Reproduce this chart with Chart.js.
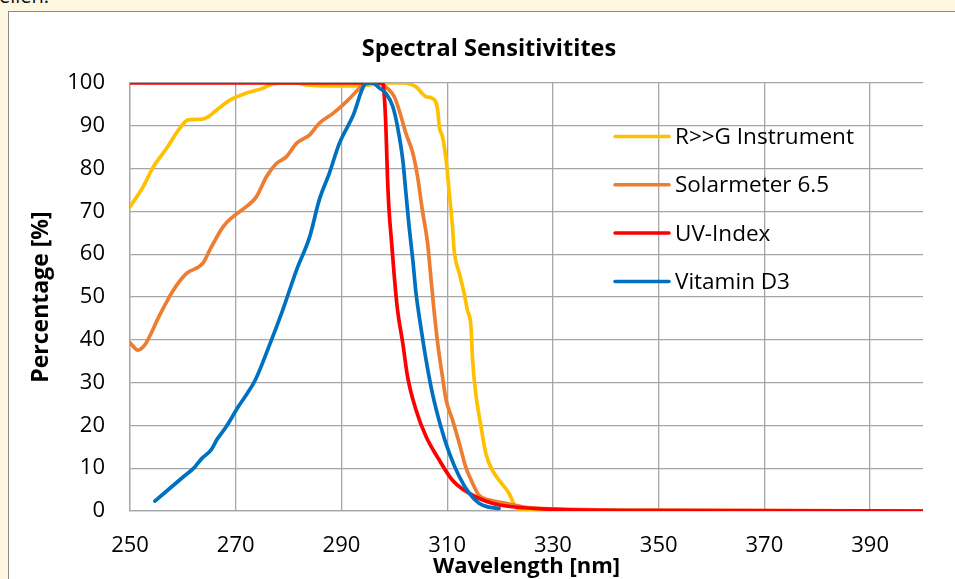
<!DOCTYPE html>
<html>
<head>
<meta charset="utf-8">
<script src="https://cdn.jsdelivr.net/npm/chart.js@4/dist/chart.umd.min.js"></script>
<style>
  html, body { margin: 0; padding: 0; width: 955px; height: 579px; overflow: hidden; background: #FFF6E2; }
  #pre { position: absolute; left: -1px; top: -14px; font: 20px "Open Sans", sans-serif; line-height: 20px; color: #111; white-space: nowrap; }
  #box { position: absolute; left: 8px; top: 11px; width: 946px; height: 567px; overflow: hidden; background: #fff; border-left: 1px solid #8a8a8a; border-top: 1px solid #8a8a8a; }
  #inner { position: relative; width: 960px; height: 600px; }
</style>
</head>
<body>
<div id="pre">elien.</div>
<div id="box"><div id="inner"><canvas id="c"></canvas></div></div>
<script>
// ---- data ----
const chartTitle = "Spectral Sensitivitites";
const xTitle = "Wavelength [nm]";
const yTitle = "Percentage [%]";
const xTickValues = [250, 270, 290, 310, 330, 350, 370, 390];
const seriesNames = ["R>>G Instrument", "Solarmeter 6.5", "UV-Index", "Vitamin D3"];
const seriesColors = ["#FFC000", "#ED7D31", "#FF0000", "#0070C0"];

const rgX = [250, 252.5, 254.4, 256.9, 259.4, 261, 263.2, 264.8, 266.4, 268.9, 271.9, 275.2, 277, 280.8, 284, 290.2, 294.6, 299.1, 301.6, 304.1, 306, 307.2, 308.2, 308.5, 309.1, 309.8, 310.4, 311, 311.3, 312.3, 313.2, 313.8, 314.5, 314.8, 315.4, 316.4, 317.3, 318.5, 319.8, 321.7, 322.9, 324.8, 330, 400];
const rgY = [71.1, 75.8, 80.4, 84.7, 89.4, 91.4, 91.5, 92.1, 93.7, 96, 97.6, 98.8, 99.8, 100, 99.5, 99.3, 99.5, 100, 100, 99.1, 96.8, 96.4, 93.7, 89.8, 87.5, 82, 74.2, 66.4, 61, 55.5, 50.9, 47, 43, 35.3, 27.5, 19.7, 13.5, 9.6, 7.2, 4.1, 1, 0, 0, 0];

const solX = [250, 251.5, 252.8, 253.8, 255.3, 256.3, 258.2, 260.7, 263.8, 265.1, 267.6, 269.5, 272, 273.9, 275.8, 277.7, 279.6, 281.5, 284, 285.8, 288.4, 290.9, 292.8, 294, 295.3, 297.2, 299, 300, 300.9, 302.2, 303.5, 304.4, 305.3, 306.3, 306.9, 307.5, 308.2, 309.1, 309.8, 311, 312.3, 313.5, 314.8, 316, 317.9, 321.1, 324.2, 330, 350, 400];
const solY = [39.3, 37.6, 38.8, 41, 45, 47.4, 51.6, 55.5, 57.9, 61, 66.4, 68.8, 71.1, 73.4, 78.1, 81.2, 82.8, 85.9, 87.9, 90.6, 92.9, 95.6, 98, 99.5, 100, 99.9, 98.4, 96.8, 93.7, 88.2, 83.6, 78.1, 70.3, 62.5, 54.7, 47, 39.2, 31.4, 25.9, 21.3, 15.8, 10.3, 6.5, 3.7, 2.6, 1.8, 1, 0.5, 0.2, 0];

const uvX = [250, 297.8, 298.1, 298.4, 298.7, 299, 299.5, 300, 300.6, 301.6, 302.5, 304.1, 306, 308.5, 311, 314.2, 318.5, 322.3, 330, 350, 400];
const uvY = [100, 100, 97, 89.8, 78.1, 70.3, 62.5, 54.7, 47, 39.2, 31.4, 23.6, 17.4, 11.9, 7.2, 4.1, 1.8, 1, 0.4, 0.1, 0];

const vitX = [254.7, 260.1, 262.2, 263.6, 265.3, 266.5, 268.2, 270.5, 272.2, 273.7, 276.4, 278.9, 281.5, 284, 285.8, 287.7, 289.6, 292.1, 294.7, 295.9, 297.2, 298.4, 299.7, 300.6, 301.6, 302.2, 302.8, 303.5, 304.1, 305, 306, 307.2, 308.8, 310.4, 312.3, 314.2, 316, 317.9, 319.8];
const vitY = [2.3, 8, 10.2, 12.3, 14.2, 16.8, 19.7, 24.4, 27.5, 30.6, 38.8, 47, 56.3, 64.1, 72.7, 78.9, 85.9, 92.1, 99.9, 100, 98.8, 97.6, 94.5, 89.8, 82, 74.2, 66.4, 58.6, 50.9, 43.1, 35.3, 27.5, 19.7, 13.5, 8, 4.1, 1.8, 0.9, 0.6];

// ---- build ----
const pairs = (xs, ys) => xs.map((x, i) => ({ x: x, y: ys[i] }));
const seriesData = [pairs(rgX, rgY), pairs(solX, solY), pairs(uvX, uvY), pairs(vitX, vitY)];
const drawOrder = [3, 2, 1, 0]; // blue on top, then red, orange, yellow

const FONT = "'Open Sans', sans-serif";

const insideLegend = {
  id: 'insideLegend',
  afterDraw(chart) {
    const { ctx, chartArea } = chart;
    const x0 = chartArea.left + 485;
    const lineLen = 54;
    const y0 = chartArea.top + 53.5;
    const gap = 48.3;
    ctx.save();
    ctx.font = "22.5px " + FONT;
    ctx.textBaseline = 'middle';
    ctx.textAlign = 'left';
    chart.data.datasets.forEach((ds, i) => {
      const y = y0 + i * gap;
      ctx.strokeStyle = ds.borderColor;
      ctx.lineWidth = 3.5;
      ctx.lineCap = 'round';
      ctx.beginPath();
      ctx.moveTo(x0, y);
      ctx.lineTo(x0 + lineLen, y);
      ctx.stroke();
      ctx.fillStyle = '#000';
      ctx.fillText(ds.label, x0 + lineLen + 6, y + 1);
    });
    ctx.restore();
  }
};

new Chart(document.getElementById('c'), {
  type: 'line',
  data: {
    datasets: seriesNames.map((name, i) => ({
      label: name,
      data: seriesData[i],
      borderColor: seriesColors[i],
      backgroundColor: seriesColors[i],
      borderWidth: 3.7,
      pointRadius: 0,
      cubicInterpolationMode: 'monotone',
      fill: false,
      order: drawOrder[i],
      borderJoinStyle: 'round',
      borderCapStyle: 'round'
    }))
  },
  options: {
    responsive: true,
    maintainAspectRatio: false,
    animation: false,
    layout: { padding: { top: 0, right: 0, bottom: 0, left: 0 } },
    plugins: {
      legend: { display: false },
      tooltip: { enabled: false },
      title: {
        display: true,
        text: chartTitle,
        color: '#000',
        font: { family: FONT, size: 23.5, weight: 'bold' },
        padding: { top: 23.5, bottom: 19.3 }
      }
    },
    scales: {
      x: {
        type: 'linear',
        min: 250,
        max: 400,
        afterBuildTicks: (s) => { s.ticks = xTickValues.map(v => ({ value: v })); },
        afterFit: (s) => { s.height = 101; },
        ticks: { color: '#000', font: { family: FONT, size: 22 }, padding: 22, maxRotation: 0, autoSkip: false },
        grid: { color: '#A6A6A6', lineWidth: 1.3, drawTicks: false },
        border: { color: '#A6A6A6', width: 1.3 },
        title: { display: true, text: xTitle, color: '#000', font: { family: FONT, size: 22, weight: 'bold' }, padding: { top: 0, bottom: 32 } }
      },
      y: {
        min: 0,
        max: 100,
        afterFit: (s) => { s.width = 121; },
        ticks: { stepSize: 10, color: '#000', font: { family: FONT, size: 22 }, padding: 25 },
        grid: { color: '#A6A6A6', lineWidth: 1.3, drawTicks: false },
        border: { color: '#A6A6A6', width: 1.3 },
        title: { display: true, text: yTitle, color: '#000', font: { family: FONT, size: 23, weight: 'bold' }, padding: { top: 19, bottom: 0 } }
      },
      yRight: {
        position: 'right',
        min: 0,
        max: 100,
        afterFit: (s) => { s.width = 46; },
        ticks: { display: false },
        grid: { display: false, drawOnChartArea: false },
        border: { display: false }
      }
    }
  },
  plugins: [insideLegend]
});
</script>
</body>
</html>
